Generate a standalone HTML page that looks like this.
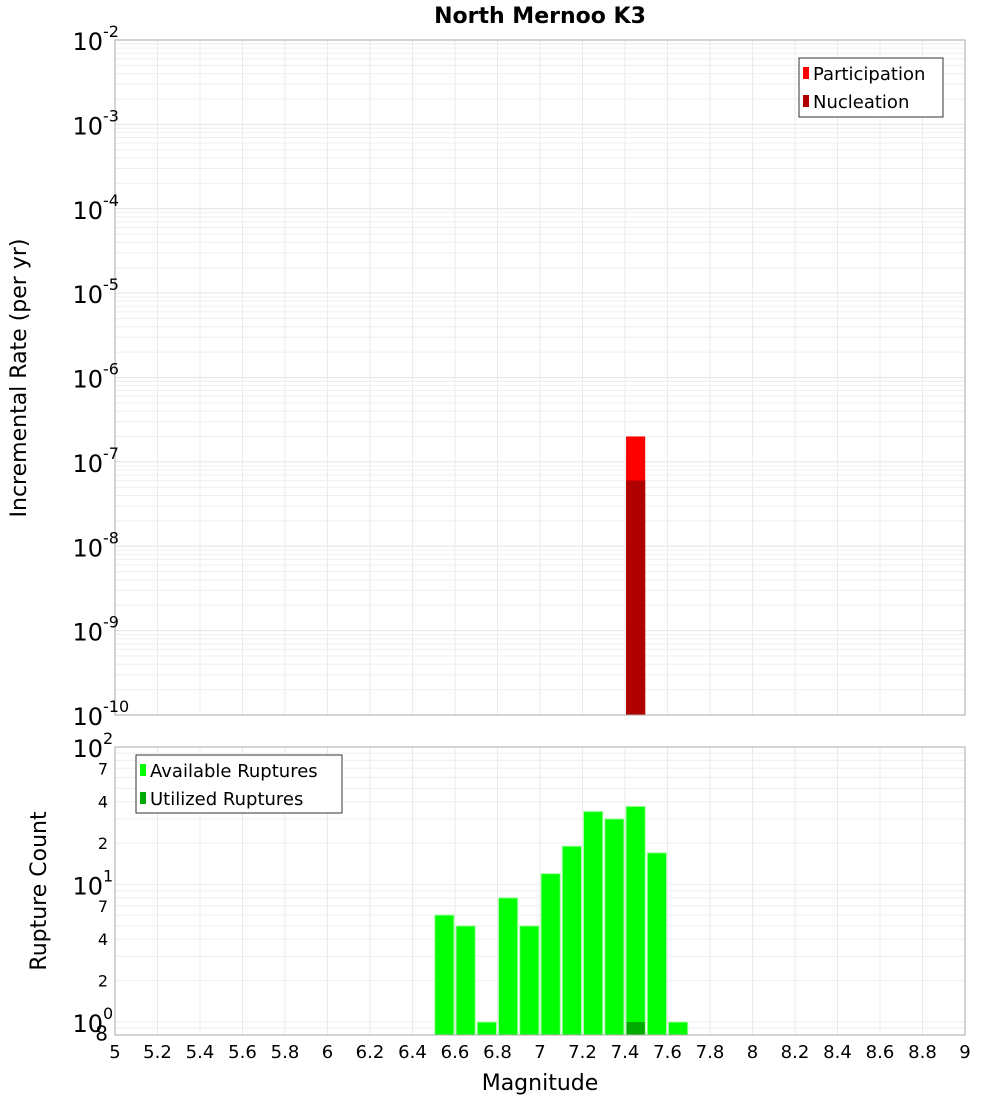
<!DOCTYPE html>
<html><head><meta charset="utf-8"><style>
body{margin:0;background:#fff;font-family:"DejaVu Sans","Liberation Sans",sans-serif}
svg text{font-family:"DejaVu Sans","Liberation Sans",sans-serif}
</style></head><body>
<svg id="c" width="1000" height="1100" xmlns="http://www.w3.org/2000/svg">
<text x="540" y="23" text-anchor="middle" font-size="22" font-weight="bold">North Mernoo K3</text>
</svg>
<script>
const rateMags=[7.45];
const participation=[2e-7];
const nucleation=[6e-8];
const countMags=[6.55,6.65,6.75,6.85,6.95,7.05,7.15,7.25,7.35,7.45,7.55,7.65];
const available=[6,5,1,8,5,12,19,34,30,37,17,1];
const utilizedMags=[7.45];
const utilized=[1];
const xTicks=["5","5.2","5.4","5.6","5.8","6","6.2","6.4","6.6","6.8","7","7.2","7.4","7.6","7.8","8","8.2","8.4","8.6","8.8","9"];

const svg=document.getElementById('c');const NS='http://www.w3.org/2000/svg';
function el(t,a,p){const e=document.createElementNS(NS,t);for(const k in a)e.setAttribute(k,a[k]);(p||svg).appendChild(e);return e;}
const X0=115,X1=965;
const x=m=>X0+(m-5)/4*(X1-X0);
const T0=40,T1=715;
const yT=v=>T0+(-2-Math.log10(v))/8*(T1-T0);
const B0=747,BD=137.5;
const yB=v=>B0+(2-Math.log10(v))*BD;
const B1=1035;

// top grid
const gT=el('g',{});

for(let d=-10;d<-2;d++)for(let k=1;k<10;k++){const y=yT(k*Math.pow(10,d));el('line',{x1:X0,x2:X1,y1:y,y2:y,stroke:k==1?'#e4e4e4':'#efefef','stroke-width':1},gT);}
for(let i=0;i<=20;i++){const xx=x(5+i*0.2);el('line',{x1:xx,x2:xx,y1:T0,y2:T1,stroke:'#ebebeb'},gT);}
// bottom grid
const gB=el('g',{});

for(let d=-1;d<2;d++)for(let k=1;k<10;k++){const v=k*Math.pow(10,d);const y=yB(v);if(y>B1||y<B0)continue;el('line',{x1:X0,x2:X1,y1:y,y2:y,stroke:'#efefef'},gB);}
for(let i=0;i<=20;i++){const xx=x(5+i*0.2);el('line',{x1:xx,x2:xx,y1:B0,y2:B1,stroke:'#ebebeb'},gB);}

// top bars
rateMags.forEach((m,i)=>{
 const r=el('rect',{x:x(m-0.045),y:yT(participation[i]),width:x(m+0.045)-x(m-0.045),height:T1-yT(participation[i]),fill:'#ff0000'});
 
 const n=el('rect',{x:x(m-0.045),y:yT(nucleation[i]),width:x(m+0.045)-x(m-0.045),height:T1-yT(nucleation[i]),fill:'#b00000'});
 
});
// bottom bars
countMags.forEach((m,i)=>{
 const y=yB(available[i]);
 const r=el('rect',{x:x(m-0.05)+1,y:y,width:x(m+0.05)-x(m-0.05)-2,height:B1-y,fill:'#00ff00',stroke:'#a8ffa8','stroke-width':1});
 
});
utilizedMags.forEach((m,i)=>{
 const y=yB(utilized[i]);
 const r=el('rect',{x:x(m-0.05)+1.5,y:y,width:x(m+0.05)-x(m-0.05)-3,height:B1-y,fill:'#00aa00'});
 
});

// frames
let f=el('rect',{x:X0,y:T0,width:X1-X0,height:T1-T0,fill:'none',stroke:'#aaa'});

f=el('rect',{x:X0,y:B0,width:X1-X0,height:B1-B0,fill:'none',stroke:'#aaa'});


// top y labels
for(let d=-2;d>=-10;d--){
 const y=yT(Math.pow(10,d));
 const t=el('text',{x:103,y:y+10,'text-anchor':'end','font-size':24});
 
 t.textContent='10';
 const s=el('text',{x:103,y:y-3,'font-size':16});s.textContent=String(d);
 
}
// bottom y labels
[[100,'2'],[10,'1'],[1,'0']].forEach(([v,e])=>{
 const y=yB(v);
 const t=el('text',{x:103,y:y+10,'text-anchor':'end','font-size':24});t.textContent='10';
 
 const s=el('text',{x:103,y:y-3,'font-size':16});s.textContent=e;
 
});
[[70,'7'],[40,'4'],[20,'2'],[7,'7'],[4,'4'],[2,'2'],[0.8,'8']].forEach(([v,l])=>{
 const y=yB(v);
 const t=el('text',{x:108,y:y+(v<1?5:6),'text-anchor':'end','font-size':v<1?20:16});t.textContent=l;
 
});
// x labels
xTicks.forEach(l=>{
 const t=el('text',{x:x(parseFloat(l)),y:1058,'text-anchor':'middle','font-size':18});t.textContent=l;
 
});
// axis titles
let a=el('text',{x:540,y:1090,'text-anchor':'middle','font-size':22});a.textContent='Magnitude';

a=el('text',{x:0,y:0,'text-anchor':'middle','font-size':22,transform:'translate(26,378) rotate(-90)'});a.textContent='Incremental Rate (per yr)';

a=el('text',{x:0,y:0,'text-anchor':'middle','font-size':22,transform:'translate(46,891) rotate(-90)'});a.textContent='Rupture Count';


// legends
function legend(name,bx,by,w,h,items){
 const g=el('g',{});
 el('rect',{x:bx,y:by,width:w,height:h,fill:'#fff',stroke:'#333'},g);
 items.forEach(([c,l],i)=>{
  const yy=by+15+i*28;
  const r=el('rect',{x:bx+4,y:yy-6,width:6,height:12,fill:c},g);
  
  const t=el('text',{x:bx+14,y:yy+7,'font-size':18},g);t.textContent=l;
  
 });
}
legend('top-legend',799,58,144,59,[['#ff0000','Participation'],['#b00000','Nucleation']]);
legend('bottom-legend',136,755,206,58,[['#00ff00','Available Ruptures'],['#00aa00','Utilized Ruptures']]);
</script>
</body></html>
